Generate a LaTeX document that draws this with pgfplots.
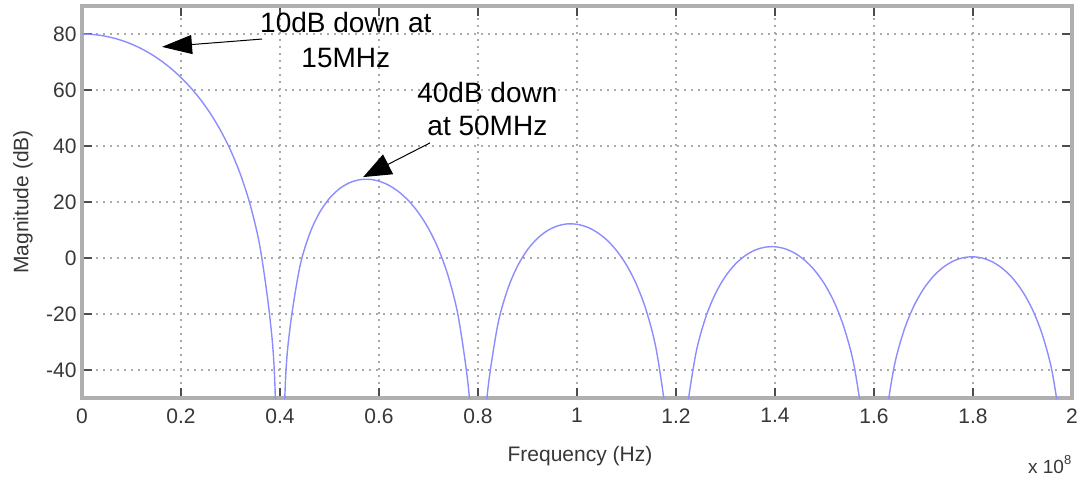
\documentclass[border=0pt]{standalone}
\usepackage{fontspec}
\setmainfont{Liberation Sans}
\usepackage{pgfplots}
\pgfplotsset{compat=1.18}
\usetikzlibrary{arrows.meta}
\definecolor{curve}{RGB}{140,140,255}
\definecolor{gridc}{RGB}{170,170,170}
\definecolor{framec}{RGB}{175,175,175}
\definecolor{tickc}{RGB}{55,55,55}
\begin{document}
\begin{tikzpicture}
\begin{axis}[name=ax, scale only axis, width=990pt, height=392pt,
  xmin=0, xmax=2, ymin=-50, ymax=90,
  xtick={0,0.2,0.4,0.6,0.8,1,1.2,1.4,1.6,1.8,2},
  xticklabels={0,0.2,0.4,0.6,0.8,1,1.2,1.4,1.6,1.8,2},
  ytick={-40,-20,0,20,40,60,80},
  grid=major,
  major grid style={gridc, line width=1.2pt, dash pattern=on 2pt off 5pt},
  axis line style={framec, line width=3.5pt},
  tick style={gray!60!black, line width=1.2pt},
  major tick length=10pt,
  tick align=inside,
  ticklabel style={font=\fontsize{21}{25}\selectfont, text=tickc},
  xticklabel style={yshift=-7pt},
  yticklabel style={xshift=-2pt},
  /pgf/number format/assume math mode=true,
  scaled x ticks=false,
  clip mode=individual,
]
\addplot[curve, line width=1.4pt, smooth, tension=0.5] coordinates {
(0,80) (0.02,79.86) (0.04,79.43) (0.06,78.72) (0.08,77.71) (0.10,76.39) (0.12,74.75) (0.14,72.76) (0.16,70.41) (0.18,67.66) (0.20,64.45) (0.22,60.74) (0.24,56.44) (0.26,51.43) (0.28,45.54) (0.30,38.50) (0.32,29.88) (0.34,18.85) (0.36,3.55) (0.38,-21.93) (0.39,-46.78) (0.40,-120)
(0.41,-48.46) (0.42,-25.29) (0.44,-3.19) (0.46,8.69) (0.48,16.26) (0.50,21.33) (0.52,24.72) (0.54,26.84) (0.56,27.92) (0.58,28.10) (0.60,27.44) (0.62,25.96) (0.64,23.63) (0.66,20.39) (0.68,16.10) (0.70,10.51) (0.72,3.22) (0.74,-6.60) (0.76,-20.78) (0.78,-45.23) (0.79,-69.59) (0.80,-120)
(0.81,-70.3) (0.82,-46.73) (0.84,-23.79) (0.86,-11.12) (0.88,-2.82) (0.90,2.96) (0.92,7.00) (0.94,9.75) (0.96,11.42) (0.98,12.17) (1.00,12.04) (1.02,11.07) (1.04,9.24) (1.06,6.47) (1.08,2.63) (1.10,-2.53) (1.12,-9.40) (1.14,-18.82) (1.16,-32.62) (1.18,-56.69) (1.19,-80.9) (1.20,-120)
(1.21,-81.3) (1.22,-57.48) (1.24,-34.20) (1.26,-21.20) (1.28,-12.58) (1.30,-6.50) (1.32,-2.15) (1.34,0.88) (1.36,2.84) (1.38,3.86) (1.40,4.01) (1.42,3.31) (1.44,1.73) (1.46,-0.79) (1.48,-4.38) (1.50,-9.29) (1.52,-15.93) (1.54,-25.12) (1.56,-38.68) (1.58,-62.53) (1.59,-86.6) (1.60,-120)
(1.61,-86.8) (1.62,-62.88) (1.64,-39.39) (1.66,-26.18) (1.68,-17.35) (1.70,-11.07) (1.72,-6.52) (1.74,-3.28) (1.76,-1.12) (1.78,0.09) (1.80,0.43) (1.82,-0.08) (1.84,-1.47) (1.86,-3.80) (1.88,-7.21) (1.90,-11.93) (1.92,-18.39) (1.94,-27.40) (1.96,-40.78) (1.98,-64.45) (1.99,-88.4) (2.00,-120)
};
% annotations
\node[anchor=base, font=\fontsize{28}{34}\selectfont, inner sep=0pt] at (axis cs:0.533,80.36) {10dB down at};
\node[anchor=base, font=\fontsize{28}{34}\selectfont, inner sep=0pt] at (axis cs:0.533,67.9) {15MHz};
\node[anchor=base, font=\fontsize{28}{34}\selectfont, inner sep=0pt] at (axis cs:0.819,55.7) {40dB down};
\node[anchor=base, font=\fontsize{28}{34}\selectfont, inner sep=0pt] at (axis cs:0.819,43.9) {at 50MHz};
\draw[black, line width=1pt, -{Triangle[length=30pt,width=19pt]}] (axis cs:0.364,78.2) -- (axis cs:0.1616,75.4);
\draw[black, line width=1pt, -{Triangle[length=28pt,width=22pt]}] (axis cs:0.703,41.1) -- (axis cs:0.568,28.9);
% axis labels
\node[anchor=base, font=\fontsize{21}{25}\selectfont, text=tickc, inner sep=0pt] at (rel axis cs:0.503,-0.163) {Frequency (Hz)};
\node[rotate=90, font=\fontsize{21}{25}\selectfont, text=tickc, inner sep=0pt] at (rel axis cs:-0.0596,0.5) {Magnitude (dB)};
\node[anchor=base west, font=\fontsize{19}{23}\selectfont, text=tickc, inner sep=0pt] at (axis cs:1.911,-76.8) {x 10\raisebox{9pt}{\fontsize{13}{15}\selectfont 8}};
\end{axis}
\pgfresetboundingbox
\path (ax.south west) ++(-82pt,-79pt) rectangle ++(1084pt,477pt);
\end{tikzpicture}
\end{document}
